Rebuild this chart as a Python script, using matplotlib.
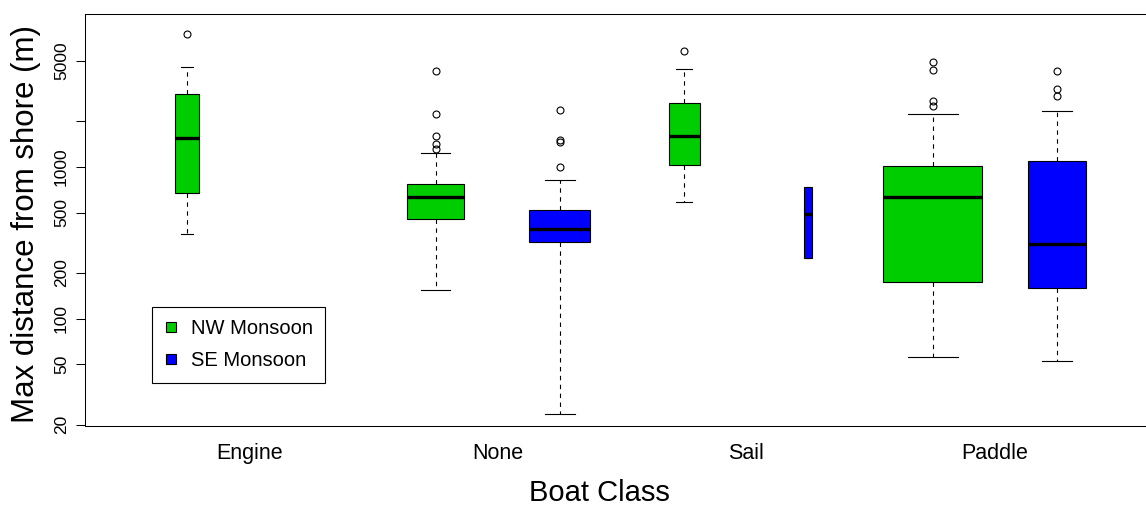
import matplotlib
matplotlib.use('Agg')
import matplotlib.pyplot as plt
from matplotlib.lines import Line2D
from matplotlib.ticker import NullLocator

plt.rcParams['font.family'] = ['Liberation Sans', 'DejaVu Sans']

# Boat classes and seasons
classes = ['Engine', 'None', 'Sail', 'Paddle']
seasons = ['NW Monsoon', 'SE Monsoon']
season_colors = ['#00CD00', '#0000FF']

# One entry per drawn box (Engine / SE Monsoon has no data -> slot 2 empty)
positions = [1, 3, 4, 5, 6, 7, 8]
box_season = [0, 0, 1, 0, 1, 0, 1]
box_widths = [0.20, 0.46, 0.49, 0.25, 0.065, 0.80, 0.47]

medians = [1545, 634, 392, 1584, 490, 631, 310]
q1 = [671, 454, 319, 1031, 251, 175, 159]
q3 = [2995, 769, 523, 2628, 731, 1020, 1100]
whis_lo = [363, 154, 23.7, 585, 251, 56, 53]
whis_hi = [4538, 1231, 825, 4421, 731, 2224, 2338]
outliers = [
    [7516],
    [1314, 1411, 1600, 2224, 4290],
    [1000, 1446, 1506, 2363],
    [5749],
    [],
    [2496, 2722, 4310, 4865],
    [2905, 3250, 4290],
]

y_ticks = [20, 50, 100, 200, 500, 1000, 2000, 5000]
y_tick_labels = ['20', '50', '100', '200', '500', '1000', '', '5000']

stats = []
for i in range(len(positions)):
    stats.append({
        'med': medians[i], 'q1': q1[i], 'q3': q3[i],
        'whislo': whis_lo[i], 'whishi': whis_hi[i],
        'fliers': outliers[i],
    })

fig = plt.figure(figsize=(11.46, 5.08), dpi=100)
ax = fig.add_axes([85 / 1146, (508 - 425.5) / 508, (1159 - 85) / 1146, 411.2 / 508])

bp = ax.bxp(
    stats, positions=positions, widths=box_widths,
    capwidths=[w * 0.5 for w in box_widths],
    patch_artist=True, showfliers=True,
    boxprops=dict(edgecolor='black', linewidth=0.8),
    whiskerprops=dict(color='black', linestyle=(0, (4, 4)), linewidth=0.8),
    capprops=dict(color='black', linewidth=0.8),
    medianprops=dict(color='black', linewidth=2.4, solid_capstyle='butt'),
    flierprops=dict(marker='o', markerfacecolor='none', markeredgecolor='black',
                    markersize=5, markeredgewidth=0.8),
)
for patch, s in zip(bp['boxes'], box_season):
    patch.set_facecolor(season_colors[s])

ax.set_yscale('log')
ax.set_ylim(19.8, 10100)
ax.set_xlim(0.18, 8.82)

ax.set_yticks(y_ticks)
ax.set_yticklabels(y_tick_labels)
ax.yaxis.set_minor_locator(NullLocator())
ax.tick_params(axis='y', length=6.5, width=0.75, labelsize=12.5, pad=5, labelrotation=90)
for lbl in ax.get_yticklabels():
    lbl.set_va('center')

ax.set_xticks([1.5, 3.5, 5.5, 7.5])
ax.set_xticklabels(classes)
ax.tick_params(axis='x', length=0, labelsize=15.5, pad=12.5)

ax.spines['right'].set_visible(False)
for sp in ['left', 'bottom', 'top']:
    ax.spines[sp].set_linewidth(0.75)

fig.text(26 / 1146, 1 - 224 / 508, 'Max distance from shore (m)', rotation=90,
         fontsize=22.5, ha='center', va='center')
fig.text(599 / 1146, 1 / 508, 'Boat Class', fontsize=21, ha='center', va='bottom')

handles = [Line2D([], [], marker='s', linestyle='none', markersize=6.7,
                  markerfacecolor=c, markeredgecolor='black', markeredgewidth=0.8)
           for c in season_colors]
leg = ax.legend(handles, seasons, loc='upper left', bbox_to_anchor=(0.0621, 0.2874),
                borderaxespad=0, fontsize=14.5, frameon=True, fancybox=False,
                framealpha=1, edgecolor='black', borderpad=0.6, labelspacing=0.65,
                handlelength=0.76, handletextpad=0.58)
leg.get_frame().set_linewidth(0.8)

fig.savefig('out.png', dpi=100)
